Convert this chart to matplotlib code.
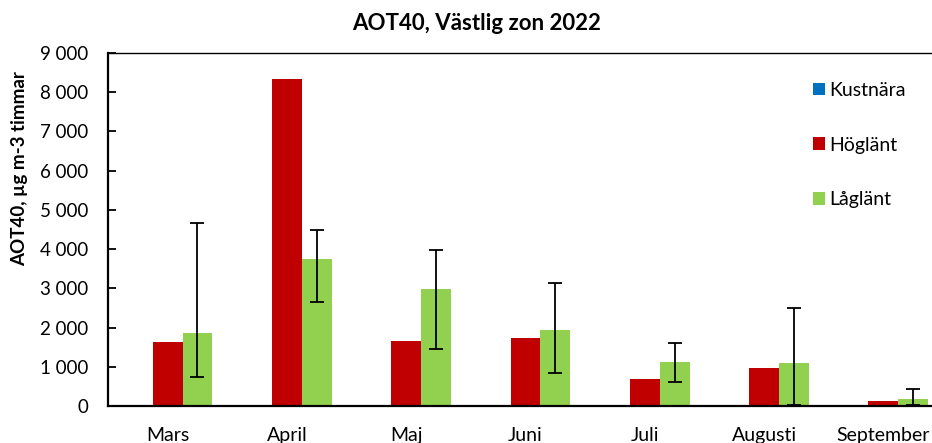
import numpy as np
import matplotlib
matplotlib.use('Agg')
import matplotlib.pyplot as plt
from matplotlib.ticker import FuncFormatter

plt.rcParams['font.family'] = ['Lato', 'DejaVu Sans']

manader = ['Mars', 'April', 'Maj', 'Juni', 'Juli', 'Augusti', 'September']
kustnara = [0, 0, 0, 0, 0, 0, 0]
hoglant = [1640, 8340, 1660, 1745, 680, 975, 130]
laglant = [1855, 3760, 2980, 1940, 1125, 1100, 190]
# felstaplar för låglänt: undre och övre gräns
laglant_min = [750, 2660, 1455, 850, 612, 25, 35]
laglant_max = [4660, 4475, 3980, 3140, 1615, 2510, 440]

fig = plt.figure(figsize=(9.32, 4.43), dpi=100)
ax = fig.add_axes([108 / 932, 1 - 406 / 443, 835 / 932, 353 / 443])

x = np.arange(len(manader))
w = 0.25
ax.bar(x - w, kustnara, w, color='#0070C0', label='Kustnära')
ax.bar(x, hoglant, w, color='#C00000', label='Höglänt')
lag = np.array(laglant)
yerr = [lag - np.array(laglant_min), np.array(laglant_max) - lag]
ax.bar(x + w, laglant, w, color='#92D050', label='Låglänt')
ax.errorbar(x + w, laglant, yerr=yerr, fmt='none', ecolor='black',
            elinewidth=1.3, capsize=5, capthick=1.3)

ax.set_xlim(-0.5, len(manader) - 0.5)
ax.set_ylim(0, 9000)
ax.set_yticks(np.arange(0, 9001, 1000))
ax.yaxis.set_major_formatter(FuncFormatter(lambda v, p: f'{int(v):,}'.replace(',', ' ')))
ax.set_xticks(x)
ax.set_xticklabels(manader)
ax.tick_params(axis='y', direction='in', length=6, width=1.3, labelsize=13.5, pad=14)
ax.tick_params(axis='x', length=0, labelsize=14, pad=15)

for s in ['left', 'bottom']:
    ax.spines[s].set_linewidth(1.6)
ax.spines['top'].set_linewidth(1.0)
ax.spines['right'].set_visible(False)

fig.text(477 / 932, 1 - 24 / 443, 'AOT40, Västlig zon 2022', ha='center', va='center',
         fontsize=16, fontweight='bold')
fig.text(20 / 932, 1 - 169 / 443, 'AOT40, µg m-3 timmar', ha='center', va='center',
         rotation=90, fontsize=13.5, fontweight='bold')

fig.legend(loc='center left', bbox_to_anchor=(813 / 932, 1 - 145 / 443),
           frameon=False, fontsize=14, labelspacing=1.95, handlelength=0.6,
           handleheight=0.6, handletextpad=0.25, borderpad=0, borderaxespad=0)

fig.savefig('out.png', dpi=100)
